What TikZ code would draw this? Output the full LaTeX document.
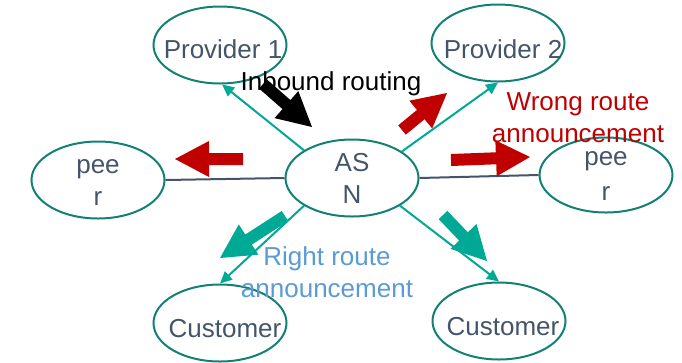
\documentclass[tikz,border=0pt]{standalone}
\usepackage{fontspec}
\setmainfont{Liberation Sans}
\usetikzlibrary{shapes.geometric,calc,arrows.meta}

\definecolor{rimteal}{RGB}{18,128,116}
\definecolor{linkteal}{RGB}{0,168,150}
\definecolor{slate}{RGB}{68,84,106}
\definecolor{wrongred}{RGB}{192,0,0}
\definecolor{rightblue}{RGB}{91,155,213}

% filled block arrow from #1 (tail) to #2 (tip) in colour #3
\newcommand\blockarrow[3]{%
  \coordinate (bhead) at ($(#2)!34bp!(#1)$);
  \fill[#3] ($(#1)!6bp!90:(#2)$) -- ($(bhead)!6bp!90:(#2)$)
    -- ($(bhead)!18bp!90:(#2)$) -- (#2) -- ($(bhead)!18bp!-90:(#2)$)
    -- ($(bhead)!6bp!-90:(#2)$) -- ($(#1)!6bp!-90:(#2)$) -- cycle;
}

\begin{document}
\begin{tikzpicture}[x=1bp,y=-1bp,
  hub/.style={ellipse, draw=rimteal, line width=2bp, minimum width=133bp,
    minimum height=77bp, inner sep=0pt},
  nodetext/.style={text=slate, font=\fontsize{26bp}{32bp}\selectfont,
    anchor=base, align=center, inner sep=0pt},
  note/.style={font=\fontsize{26bp}{32bp}\selectfont, anchor=base,
    align=center, inner sep=0pt},
  link/.style={draw=linkteal, line width=2bp, -{Triangle[length=12bp,width=11bp]}},
  peering/.style={draw=slate, line width=2bp}]
\useasboundingbox (0,0) rectangle (682,362);

% the seven autonomous systems
\node[hub] (p1)  at (220,45)  {};
\node[hub] (p2)  at (498,43)  {};
\node[hub] (asn) at (352,178) {};
\node[hub] (pl)  at (98,180)  {};
\node[hub, minimum height=75bp] (pr) at (606,175) {};
\node[hub] (c1)  at (220,323) {};
\node[hub] (c2)  at (499,321) {};

% links
\draw[link] (asn.150) -- (p1.-87);
\draw[link] (asn.28)  -- (p2.south);
\draw[link] (asn.210) -- (c1.north);
\draw[link] (asn.-30) -- (c2.north);
\draw[peering] (asn.west) -- (pl.east);
\draw[peering] (asn.east) -- (pr.west);

% route arrows
\coordinate (inT) at (263,84);  \coordinate (inH) at (312,127);
\coordinate (w1T) at (402,130); \coordinate (w1H) at (447,93);
\coordinate (w2T) at (243,159); \coordinate (w2H) at (175,159);
\coordinate (w3T) at (451,160); \coordinate (w3H) at (530,157);
\coordinate (r1T) at (285,216); \coordinate (r1H) at (220,258);
\coordinate (r2T) at (443,215); \coordinate (r2H) at (487,261);
\blockarrow{inT}{inH}{black}
\blockarrow{w1T}{w1H}{wrongred}
\blockarrow{w2T}{w2H}{wrongred}
\blockarrow{w3T}{w3H}{wrongred}
\blockarrow{r1T}{r1H}{linkteal}
\blockarrow{r2T}{r2H}{linkteal}

% names (multi-line nodes sit on the baseline of their last line)
\node[nodetext] (tp1)  at (223,58)  {Provider 1};
\node[nodetext] (tp2)  at (503,58)  {Provider 2};
\node[nodetext] (tasn) at (352,203) {AS\\N};
\node[nodetext] (tpl)  at (98,205)  {pee\\r};
\node[nodetext, font=\fontsize{26bp}{35bp}\selectfont] (tpr) at (606,200) {pee\\r};
\node[nodetext] (tc1)  at (225,337) {Customer};
\node[nodetext] (tc2)  at (503,335) {Customer};

% captions
\node[note, text=black] (inb) at (331,90) {Inbound routing};
\node[note, text=wrongred] (wrong) at (578,142) {Wrong route\\announcement};
\node[note, text=rightblue] (right) at (327,297) {Right route\\announcement};
\end{tikzpicture}
\end{document}
